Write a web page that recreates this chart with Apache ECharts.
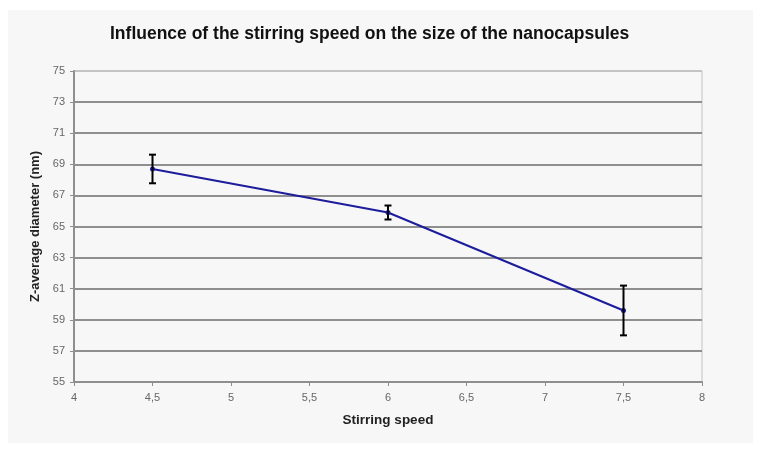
<!DOCTYPE html>
<html>
<head>
<meta charset="utf-8">
<script src="https://cdn.jsdelivr.net/npm/echarts@6/dist/echarts.min.js"></script>
<style>
html,body{margin:0;padding:0;background:#ffffff;}
#chart{width:763px;height:453px;}
</style>
</head>
<body>
<div id="chart"></div>
<script>
var speeds = [4.5, 6, 7.5];
var diameters = [68.7, 65.9, 59.6];
var errors = [0.92, 0.45, 1.6];
var xTicks = [4, 4.5, 5, 5.5, 6, 6.5, 7, 7.5, 8];
var yTicks = [55, 57, 59, 61, 63, 65, 67, 69, 71, 73, 75];

var chart = echarts.init(document.getElementById('chart'), null, {renderer: 'canvas'});

var lineData = speeds.map(function (s, i) { return [s, diameters[i]]; });
var errData = speeds.map(function (s, i) { return [s, diameters[i] - errors[i], diameters[i] + errors[i]]; });

var gridColors = yTicks.map(function (v, i) { return i === yTicks.length - 1 ? '#c4c4c4' : '#8f8f8f'; });

var option = {
  animation: false,
  backgroundColor: '#ffffff',
  graphic: [{
    type: 'rect', z: -10, silent: true,
    shape: {x: 8, y: 10, width: 745, height: 433},
    style: {fill: '#f7f7f7'}
  }],
  title: {
    text: 'Influence of the stirring speed on the size of the nanocapsules',
    left: 105, top: 20,
    textStyle: {fontFamily: 'Liberation Sans, Arial, sans-serif', fontSize: 17.5, fontWeight: 'bold', color: '#111'}
  },
  grid: {left: 74, right: 61, top: 71, bottom: 71, show: true, borderColor: '#c4c4c4', borderWidth: 1, backgroundColor: 'transparent'},
  xAxis: {
    type: 'value', min: 4, max: 8, interval: 0.5,
    name: 'Stirring speed', nameLocation: 'middle', nameGap: 31,
    nameTextStyle: {fontFamily: 'Liberation Sans, Arial, sans-serif', fontSize: 13.5, fontWeight: 'bold', color: '#222'},
    axisLine: {show: true, onZero: false, lineStyle: {color: '#8f8f8f', width: 2}},
    axisTick: {show: true, length: 4, lineStyle: {color: '#8f8f8f', width: 1}},
    axisLabel: {fontFamily: 'Liberation Sans, Arial, sans-serif', fontSize: 11, color: '#666', margin: 10,
      formatter: function (v) { return String(v).replace('.', ','); }},
    splitLine: {show: false}
  },
  yAxis: {
    type: 'value', min: 55, max: 75, interval: 2,
    name: 'Z-average diameter (nm)', nameLocation: 'middle', nameGap: 30,
    nameTextStyle: {fontFamily: 'Liberation Sans, Arial, sans-serif', fontSize: 13, fontWeight: 'bold', color: '#222'},
    axisLine: {show: true, lineStyle: {color: '#8f8f8f', width: 2}},
    axisTick: {show: true, length: 4, lineStyle: {color: '#8f8f8f', width: 1}},
    axisLabel: {fontFamily: 'Liberation Sans, Arial, sans-serif', fontSize: 11, color: '#666', margin: 9},
    splitLine: {show: true, lineStyle: {color: gridColors, width: 2}}
  },
  series: [{
    type: 'line', data: lineData,
    symbol: 'circle', symbolSize: 5,
    lineStyle: {color: '#1c1c9c', width: 2},
    itemStyle: {color: '#1c1c9c'},
    z: 3
  }, {
    type: 'custom', data: errData, z: 4,
    renderItem: function (params, api) {
      var x = api.value(0);
      var lo = api.coord([x, api.value(1)]);
      var hi = api.coord([x, api.value(2)]);
      var hw = 3.5;
      var st = {stroke: '#000', lineWidth: 2};
      return {type: 'group', children: [
        {type: 'line', shape: {x1: lo[0], y1: lo[1], x2: hi[0], y2: hi[1]}, style: st},
        {type: 'line', shape: {x1: lo[0] - hw, y1: lo[1], x2: lo[0] + hw, y2: lo[1]}, style: st},
        {type: 'line', shape: {x1: hi[0] - hw, y1: hi[1], x2: hi[0] + hw, y2: hi[1]}, style: st}
      ]};
    }
  }]
};
chart.setOption(option);
</script>
</body>
</html>
